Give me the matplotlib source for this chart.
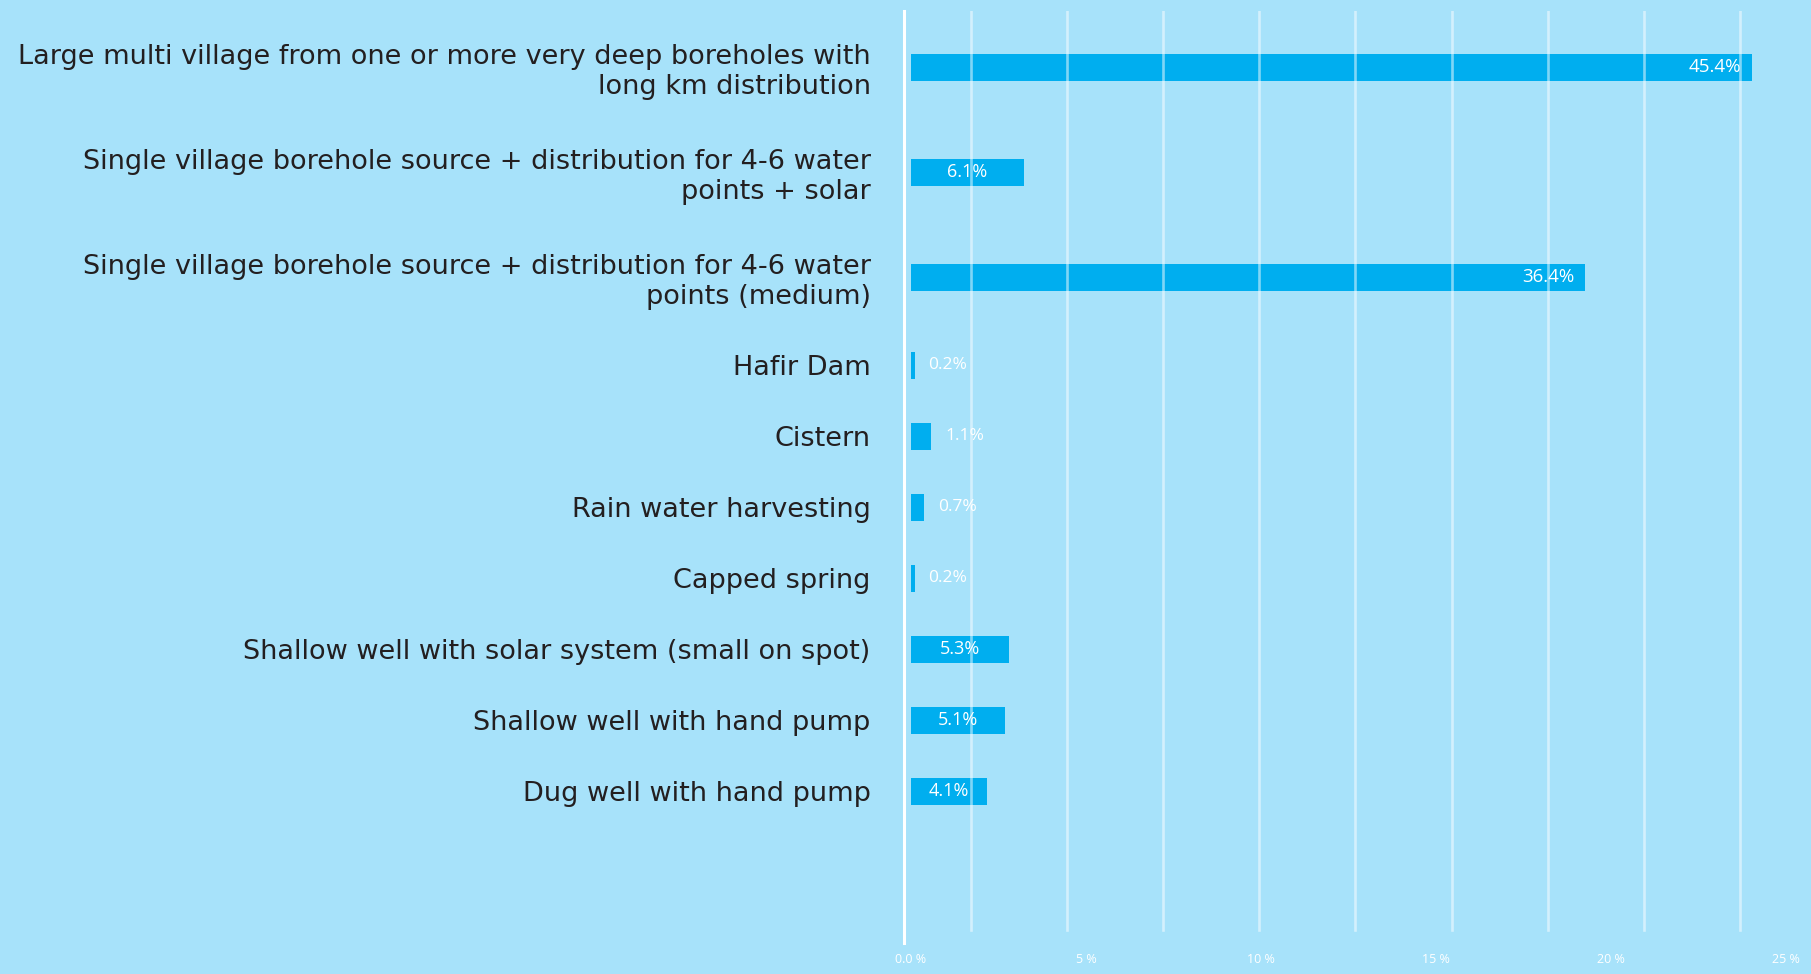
import numpy as np
import matplotlib.pyplot as plt
from matplotlib.ticker import FixedLocator, FixedFormatter

categories = [
    "Large multi village from one or more very deep boreholes with\nlong km distribution",
    "Single village borehole source + distribution for 4-6 water\npoints + solar",
    "Single village borehole source + distribution for 4-6 water\npoints (medium)",
    "Hafir Dam",
    "Cistern",
    "Rain water harvesting",
    "Capped spring",
    "Shallow well with solar system (small on spot)",
    "Shallow well with hand pump",
    "Dug well with hand pump",
]
shares = [45.4, 6.1, 36.4, 0.2, 1.1, 0.7, 0.2, 5.3, 5.1, 4.1]

axis_ticks = [0, 5, 10, 15, 20, 25]
axis_tick_labels = ["0.0 %", "5 %", "10 %", "15 %", "20 %", "25 %"]

BG = "#a7e2fa"
BAR = "#00aeef"
TEXT = "#231f20"

# rows with two-line labels get a little extra room
n_lines = [c.count("\n") + 1 for c in categories]
ypos = [0.0]
for a, b in zip(n_lines[:-1], n_lines[1:]):
    ypos.append(ypos[-1] + 1 + 0.24 * ((a - 1) + (b - 1)))
ypos = np.array(ypos)

fig = plt.figure(figsize=(18.11, 9.74), dpi=100, facecolor=BG)
ax = fig.add_axes([911 / 1811, 31 / 974, 900 / 1811, 932 / 974])
ax.set_facecolor(BG)

ax.barh(ypos, shares, height=0.38, color=BAR, zorder=2)

ax.set_xlim(0, 48.6)
ax.set_ylim(ypos[-1] + 2.14, ypos[0] - 0.79)

# light vertical guides drawn over the bars
for gx in np.arange(3.24, 46, 5.19):
    ax.axvline(gx, ymin=0.014, ymax=1, color="white", alpha=0.5, lw=1.9, zorder=3)

for y, v in zip(ypos, shares):
    lab = f"{v:.1f}%"
    if v > 20:
        ax.text(v - 0.6, y, lab, ha="right", va="center", color="white",
                fontsize=13.5, family="Open Sans", zorder=4)
    elif v > 3:
        ax.text(v / 2, y, lab, ha="center", va="center", color="white",
                fontsize=13, family="Open Sans", zorder=4)
    else:
        ax.text(v + 0.75, y, lab, ha="left", va="center", color="white",
                fontsize=12.5, family="Open Sans", zorder=4)

ax.tick_params(axis="y", length=0, pad=24, labelsize=19.5, labelcolor=TEXT)
ax.set_yticks(ypos)
ax.set_yticklabels(categories)
for lbl in ax.get_yticklabels():
    lbl.set_family("Roboto")
    lbl.set_linespacing(1.15)
ax.set_xticks([])

for s in ["top", "right", "bottom"]:
    ax.spines[s].set_visible(False)
ax.spines["left"].set_color("white")
ax.spines["left"].set_linewidth(2.2)
ax.spines["left"].set_position(("outward", 5))

# percentage scale along the bottom
sec = ax.secondary_xaxis("bottom", functions=(lambda x: x / 1.89, lambda t: t * 1.89))
sec.xaxis.set_major_locator(FixedLocator(axis_ticks))
sec.xaxis.set_major_formatter(FixedFormatter(axis_tick_labels))
sec.tick_params(length=0, pad=7, labelsize=9, labelcolor="white")
for lbl in sec.get_xticklabels():
    lbl.set_family("Open Sans")
sec.spines["bottom"].set_visible(False)

fig.savefig("out.png", dpi=100, facecolor=BG)
